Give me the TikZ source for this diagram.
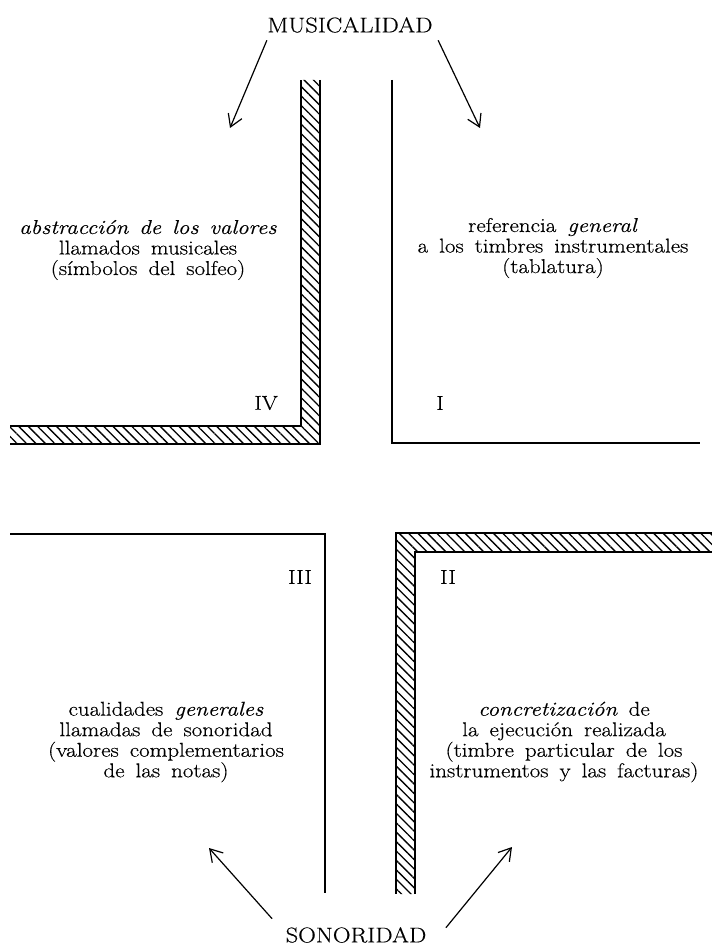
\documentclass[tikz,border=0pt]{standalone}
\usepackage{fontspec}
\setmainfont{Latin Modern Roman}[FakeStretch=1.15,FakeBold=0.4]
\usepackage{tikz}
\usetikzlibrary{patterns.meta,arrows.meta}
\tikzstyle{title} = [font={\fontsize{16}{18}\selectfont}, inner sep=0pt]
\tikzstyle{block} = [align=center, font={\fontsize{15}{15.4}\selectfont\spaceskip=0.55em plus 0.1em minus 0.05em}]
\tikzstyle{numeral} = [font={\fontsize{15}{15}\selectfont}]
\tikzstyle{hatch} = [pattern={Lines[angle=-45,distance=5pt,line width=1pt]}]
\tikzstyle{edge} = [line width=1.1pt]

\begin{document}
\begin{tikzpicture}[x=0.75pt,y=-0.75pt,>={Straight Barb[length=9pt,width=11pt]},line width=0.9pt]
    \useasboundingbox (0,0) rectangle (712,945);
    % titles
    \node[title](mus) at (350,25){MUSICALIDAD};
    \node[title](son) at (356,935){SONORIDAD};
    \coordinate (ml) at (230,128);
    \coordinate (mr) at (480,128);
    \coordinate (sl) at (209,848);
    \coordinate (sr) at (512,847);
    \draw[->]([shift={(0,7)}]mus.south west)--(ml);
    \draw[->]([shift={(5,7)}]mus.south east)--(mr);
    \draw[->]([shift={(-13,-8)}]son.north west)--(sl);
    \draw[->]([shift={(19,1)}]son.north east)--(sr);
    % IV
    \fill[hatch](301,80)--(320,80)--(320,444)--(10,444)--(10,426)--(301,426)--cycle;
    \draw[edge](10,426)--(301,426)--(301,80);
    \draw[edge](320,80)--(320,444)--(10,444);
    % I
    \draw[edge](392,80)--(392,443)--(700,443);
    % II
    \fill[hatch](396,533)--(712,533)--(712,552)--(415,552)--(415,894)--(396,894)--cycle;
    \draw[edge](712,533)--(396,533)--(396,894);
    \draw[edge](415,894)--(415,552)--(712,552);
    % III
    \draw[edge](10,534)--(325,534)--(325,893);
    % quadrant texts
    \node[block](abs) at (148,250){\textit{abstracción de los valores}\\llamados musicales\\(símbolos del solfeo)};
    \node[block](ref) at (553,248){referencia \textit{general}\\a los timbres instrumentales\\(tablatura)};
    \node[block](cua) at (166,742){cualidades \textit{generales}\\llamadas de sonoridad\\(valores complementarios\\de las notas)};
    \node[block](con) at (564,742){\textit{concretización} de\\la ejecución realizada\\(timbre particular de los\\instrumentos y las facturas)};
    \node[numeral](n4) at (266,403){IV};
    \node[numeral](n1) at (440,403){I};
    \node[numeral](n3) at (300,577){III};
    \node[numeral](n2) at (448,577){II};
\end{tikzpicture}
\end{document}
